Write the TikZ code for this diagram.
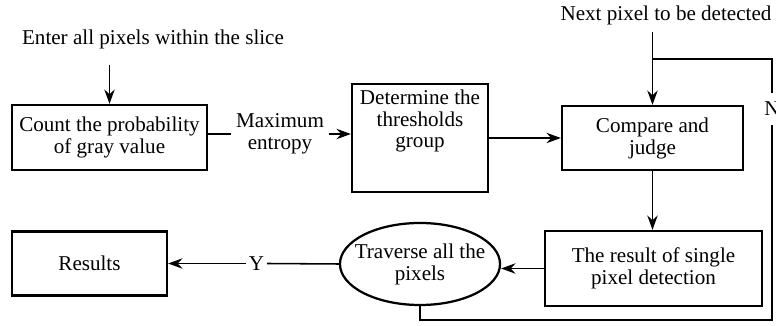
\documentclass[tikz,border=0pt]{standalone}
\usepackage{fontspec}
\setmainfont{Liberation Serif}
\usetikzlibrary{arrows.meta,shapes.geometric}

\begin{document}
\begin{tikzpicture}[x=0.025cm,y=-0.025cm,
  >={Stealth[length=3.6mm,width=2.6mm,inset=1.2mm]},
  font=\fontsize{15}{15.6}\selectfont,
  box/.style={draw,line width=1.6pt,inner sep=0pt,align=center},
  line/.style={line width=1.1pt}]
  \useasboundingbox (0,0) rectangle (776,326);
  % inputs at the top
  \node (enter) at (153,39) {Enter all pixels within the slice};
  \node (next) at (666,15) {Next pixel to be detected};
  \coordinate (inp) at (109.5,65);
  \coordinate (nxt) at (652.5,32);
  \coordinate (jn) at (652.5,59);
  % upper row
  \node[box,minimum width=4.875cm,minimum height=1.625cm] (cnt) at (109.5,137.5)
    {Count the probability\\of gray value};
  \node[align=center] (ent) at (280,134) {Maximum\\entropy};
  \node[box,minimum width=3.4cm,minimum height=2.7cm] (thr) at (420,138) {};
  \node[align=center] (thrtext) at (420,121) {Determine the\\thresholds\\group};
  \node[box,minimum width=4.525cm,minimum height=1.6cm] (cmp) at (652.5,138)
    {Compare and\\judge};
  % lower row
  \node[box,minimum width=5.425cm,minimum height=1.875cm] (det) at (653.5,268.5)
    {The result of single\\pixel detection};
  \node[draw,ellipse,line width=1.6pt,inner sep=0pt,minimum width=4cm,minimum height=2.05cm,
    label={[align=center]center:Traverse all the\\pixels}] (trav) at (420,264) {};
  \node[box,minimum width=3.875cm,minimum height=1.6cm] (rsl) at (89.5,263.5) {Results};
  \node[inner sep=2pt] (yl) at (256.5,263.5) {Y};
  \node[inner sep=0pt,minimum height=0.8cm] (nl) at (772,109) {N};
  % connectors
  \draw[line,->] (inp) -- (cnt);
  \draw[line] (cnt.east |- ent) -- (ent);
  \draw[line,->] (ent) -- (thr.west |- ent);
  \draw[line,->] (thr.east) -- (cmp.west);
  \draw[line,->] (nxt) -- (cmp);
  \draw[line,->] (cmp.south) -- (cmp.south |- det.north);
  \draw[line,->] (det.west) -- (det.west -| trav.east);
  \draw[line] (trav.west) -- (yl.east);
  \draw[line,->] (yl.west) -- (rsl.east);
  % loop back for the next pixel
  \draw[line] (trav.south) -- ++(0,14) -| (nl.south);
  \draw[line] (nl.north) |- (jn);
\end{tikzpicture}
\end{document}
